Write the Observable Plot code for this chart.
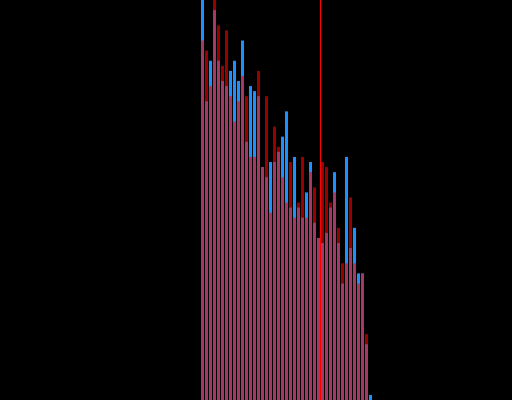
<!DOCTYPE html>
<html>
<head>
<meta charset="utf-8">
<script src="https://cdn.jsdelivr.net/npm/d3@7"></script>
<script src="https://cdn.jsdelivr.net/npm/@observablehq/plot@0.6"></script>
<style>
  html, body { margin: 0; padding: 0; background: #000; }
  #chart { width: 512px; height: 400px; overflow: hidden; }
</style>
</head>
<body>
<div id="chart"></div>
<script>
// Bin lower edges (bin width 1)
const bins = [0,1,2,3,4,5,6,7,8,9,10,11,12,13,14,15,16,17,18,19,20,21,22,23,24,25,26,27,28,29,30,31,32,33,34,35,36,37,38,39,40,41,42];
// Counts for the blue series
const blueCounts = [83,59,67,77,67,63,62,65,67,63,71,51,62,61,60,46,44,47,47,49,52,57,38,48,38,36,41,47,35,32,31,33,38,45,31,23,48,30,34,25,25,11,1];
// Counts for the red series
const redCounts  = [71,69,62,81,74,66,73,60,55,59,64,60,48,48,65,46,60,37,54,50,44,39,47,36,39,48,36,45,42,32,47,46,39,41,34,27,27,40,27,23,25,13,0];
// Vertical reference line (mean)
const meanValue = 29.75;

const binWidth = 1;
const blue = bins.map((b, i) => ({x0: b, x1: b + binWidth, count: blueCounts[i]}));
const red = bins.map((b, i) => ({x0: b, x1: b + binWidth, count: redCounts[i]}));

const plot = Plot.plot({
  width: 512,
  height: 400,
  margin: 0,
  style: {background: "#000", overflow: "hidden"},
  x: {domain: [-50.25, 77.75], axis: null},
  y: {domain: [0, 79], axis: null},
  marks: [
    Plot.rectY(blue, {x1: "x0", x2: "x1", y: "count", fill: "#1e90ff", insetLeft: 0, insetRight: 1}),
    Plot.rectY(red, {x1: "x0", x2: "x1", y: "count", fill: "#ff0000", fillOpacity: 0.6, insetLeft: 0, insetRight: 1}),
    Plot.ruleX([meanValue], {stroke: "#ff0000", strokeWidth: 1})
  ]
});
document.getElementById("chart").appendChild(plot);
</script>
</body>
</html>
